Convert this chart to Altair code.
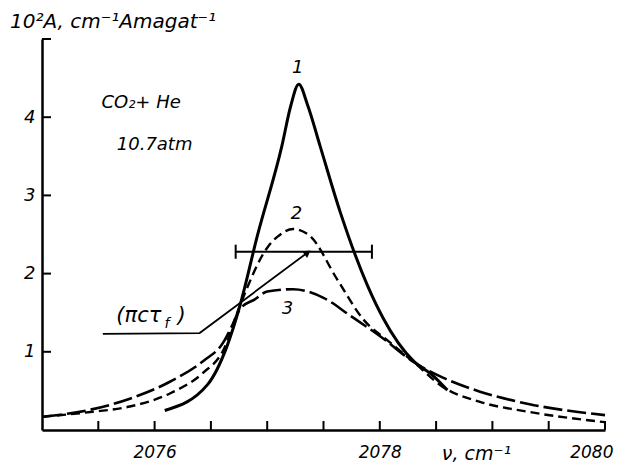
import altair as alt
import pandas as pd

# Curve 1 (solid)
x1 = [2076.09, 2076.47, 2076.64, 2076.76, 2076.91, 2077.13, 2077.21, 2077.28,
      2077.36, 2077.47, 2077.65, 2077.89, 2078.03, 2078.30, 2078.47, 2078.60]
y1 = [0.25, 0.58, 1.06, 1.60, 2.47, 3.63, 4.15, 4.42,
      4.15, 3.63, 2.78, 1.85, 1.43, 0.88, 0.70, 0.51]
# Curve 2 (short dashes)
x2 = [2075.01, 2075.43, 2075.78, 2076.14, 2076.43, 2076.61, 2076.76, 2077.01, 2077.09, 2077.23,
      2077.38, 2077.62, 2077.85, 2078.09, 2078.30, 2078.56, 2078.89, 2079.33, 2080.0]
y2 = [0.17, 0.23, 0.30, 0.47, 0.73, 1.02, 1.60, 2.35, 2.47, 2.57,
      2.48, 1.93, 1.42, 1.12, 0.87, 0.55, 0.36, 0.23, 0.10]
# Curve 3 (long dashes)
x3 = [2075.01, 2075.43, 2075.78, 2076.14, 2076.43, 2076.61, 2076.69, 2076.76, 2076.89, 2077.0,
      2077.23, 2077.5, 2077.74, 2078.03, 2078.30, 2078.56, 2078.89, 2079.33, 2080.0]
y3 = [0.17, 0.26, 0.40, 0.62, 0.88, 1.12, 1.34, 1.55, 1.67, 1.77,
      1.80, 1.69, 1.46, 1.17, 0.87, 0.67, 0.49, 0.33, 0.19]

# Axis ticks / labels
x_ticks = [2075.5, 2076, 2076.5, 2077, 2077.5, 2078, 2078.5, 2079, 2079.5, 2080]
x_labels = [2076, 2078, 2080]
y_ticks = [1, 2, 3, 4, 5]
y_labels = [1, 2, 3, 4]

# Width bar (pi c tau_f)
bar_x = [2076.72, 2077.93]
bar_y = [2.28, 2.28]
# Leader line with arrow
lead_x = [2075.54, 2076.40, 2077.35]
lead_y = [1.23, 1.24, 2.26]

# Annotations
ann_text = ["1", "2", "3", "CO₂+ He", "10.7atm"]
ann_x = [2077.27, 2077.26, 2077.18, 2075.88, 2076.0]
ann_y = [4.63, 2.76, 1.55, 4.18, 3.64]

FONT = "DejaVu Sans"
xs = alt.Scale(domain=[2075, 2080], nice=False, zero=False)
ys = alt.Scale(domain=[0, 5], nice=False, zero=False)

xaxis = alt.Axis(values=x_labels, format="d", ticks=False, grid=False, labelPadding=14,
                 labelFontSize=17, labelFont=FONT, labelFontStyle="italic", labelColor="black",
                 domainColor="black", domainWidth=2.5, labelFlush=True, labelFlushOffset=8,
                 title="ν, cm⁻¹", titleFont=FONT, titleFontSize=19, titleFontStyle="italic",
                 titleFontWeight="normal", titleX=434, titleY=23, titleBaseline="middle",
                 titleAlign="center", titleColor="black")
yaxis = alt.Axis(values=y_labels, format="d", ticks=False, grid=False, labelPadding=7,
                 labelFontSize=18, labelFont=FONT, labelFontStyle="italic", labelColor="black",
                 domainColor="black", domainWidth=2.5, title=None)


def curve(xv, yv, dash, width):
    df = pd.DataFrame({"x": xv, "y": yv})
    kw = {"strokeDash": dash} if dash else {}
    return alt.Chart(df).mark_line(color="black", strokeWidth=width, interpolate="monotone",
                                   **kw).encode(
        x=alt.X("x:Q", scale=xs, axis=xaxis), y=alt.Y("y:Q", scale=ys, axis=yaxis))


c1 = curve(x1, y1, None, 3)
c2 = curve(x2, y2, [9, 5], 2.4)
c3 = curve(x3, y3, [19, 5], 2.6)

ytick = alt.Chart(pd.DataFrame({"t": y_ticks})).mark_rule(color="black", strokeWidth=2).encode(
    y=alt.Y("t:Q", scale=ys), x=alt.value(0), x2=alt.value(9))
xtick = alt.Chart(pd.DataFrame({"t": x_ticks})).mark_rule(color="black", strokeWidth=2).encode(
    x=alt.X("t:Q", scale=xs), y=alt.value(391), y2=alt.value(382))

bar = alt.Chart(pd.DataFrame({"x": bar_x, "y": bar_y})).mark_line(color="black", strokeWidth=2).encode(
    x=alt.X("x:Q", scale=xs), y=alt.Y("y:Q", scale=ys))
caps = alt.Chart(pd.DataFrame({"x": bar_x, "y": [b - 0.09 for b in bar_y],
                               "y2": [b + 0.09 for b in bar_y]})).mark_rule(
    color="black", strokeWidth=2).encode(x=alt.X("x:Q", scale=xs), y=alt.Y("y:Q", scale=ys), y2="y2:Q")

lead = alt.Chart(pd.DataFrame({"x": lead_x, "y": lead_y, "o": [0, 1, 2]})).mark_line(
    color="black", strokeWidth=1.8).encode(x=alt.X("x:Q", scale=xs), y=alt.Y("y:Q", scale=ys), order="o:Q")
arrow = alt.Chart(pd.DataFrame({"x": [lead_x[-1]], "y": [lead_y[-1]]})).mark_point(
    shape="triangle", filled=True, color="black", size=70, angle=54, opacity=1).encode(
    x=alt.X("x:Q", scale=xs), y=alt.Y("y:Q", scale=ys))

ann = alt.Chart(pd.DataFrame({"t": ann_text, "x": ann_x, "y": ann_y})).mark_text(
    font=FONT, fontSize=18, fontStyle="italic", color="black", baseline="middle", align="center").encode(
    x=alt.X("x:Q", scale=xs), y=alt.Y("y:Q", scale=ys), text="t:N")

tau_main = alt.Chart(pd.DataFrame({"t": ["(πcτ"], "x": [2076.06], "y": [1.46]})).mark_text(
    font=FONT, fontSize=21, fontStyle="italic", color="black", baseline="middle", align="right").encode(
    x=alt.X("x:Q", scale=xs), y=alt.Y("y:Q", scale=ys), text="t:N")
tau_sub = alt.Chart(pd.DataFrame({"t": ["f"], "x": [2076.11], "y": [1.36]})).mark_text(
    font=FONT, fontSize=14, fontStyle="italic", color="black", baseline="middle", align="center").encode(
    x=alt.X("x:Q", scale=xs), y=alt.Y("y:Q", scale=ys), text="t:N")
tau_close = alt.Chart(pd.DataFrame({"t": [")"], "x": [2076.24], "y": [1.46]})).mark_text(
    font=FONT, fontSize=21, fontStyle="italic", color="black", baseline="middle", align="center").encode(
    x=alt.X("x:Q", scale=xs), y=alt.Y("y:Q", scale=ys), text="t:N")

chart = alt.layer(c3, c2, c1, ytick, xtick, bar, caps, lead, arrow, ann, tau_main, tau_sub, tau_close).properties(
    width=563, height=391,
    background="white",
    title=alt.TitleParams("10²A, cm⁻¹Amagat⁻¹", anchor="start", frame="group", dx=-32, offset=6,
                          font=FONT, fontSize=20, fontStyle="italic", fontWeight="normal", color="black"),
    autosize=alt.AutoSizeParams(type="none"),
    padding={"left": 42, "top": 39, "right": 12, "bottom": 40},
).configure_view(stroke=None)

chart.save("out.html", embed_options={"renderer": "svg", "actions": False})
